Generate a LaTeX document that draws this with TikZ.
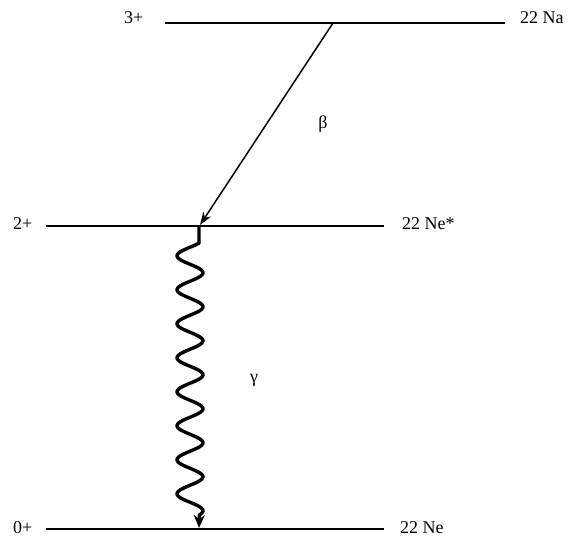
\documentclass[tikz,border=0pt]{standalone}
\usepackage{fontspec}
\setmainfont{Liberation Serif}
\usetikzlibrary{arrows.meta}

\begin{document}
\begin{tikzpicture}[x=1pt,y=-1pt,level/.style={line width=1.1pt},
    lbl/.style={anchor=base west,inner sep=0pt,font=\fontsize{18}{20}\selectfont}]
\useasboundingbox (0,0) rectangle (569,542);
% energy levels
\draw[level] (165,23) coordinate (na-l) -- (505,23) coordinate (na-r);
\draw[level] (46,226) coordinate (nes-l) -- (384,226) coordinate (nes-r);
\draw[line width=1.8pt] (46,529) coordinate (ne-l) -- (384,529) coordinate (ne-r);
\draw (124,23) node[lbl] (spin-na) {3+};
\draw (520,23) node[lbl] (name-na) {22 Na};
\draw (13,229) node[lbl] (spin-nes) {2+};
\draw (402,229) node[lbl] (name-nes) {22 Ne*};
\draw (13,533) node[lbl] (spin-ne) {0+};
\draw (400,533) node[lbl] (name-ne) {22 Ne};
% transitions
\coordinate (beta-from) at (333,23);
\coordinate (beta-to) at (200,225);
\coordinate (gamma-from) at (199,226);
\coordinate (gamma-to) at (199,528);
\draw[line width=1.5pt,-{Stealth[length=13pt,width=9pt]}] (beta-from) -- (beta-to);
\draw[line width=3.4pt,line join=round,-{Stealth[length=13pt,width=11pt]}] (gamma-from) -- (199,243)
  -- plot[domain=0:8,samples=241] ({190+13*cos(360*\x+45)},{243+34*\x})
  -- (gamma-to);
\draw (323,124) node[lbl,anchor=center] (beta) {β};
\draw (254,380) node[lbl,anchor=center] (gamma) {γ};
\end{tikzpicture}
\end{document}
